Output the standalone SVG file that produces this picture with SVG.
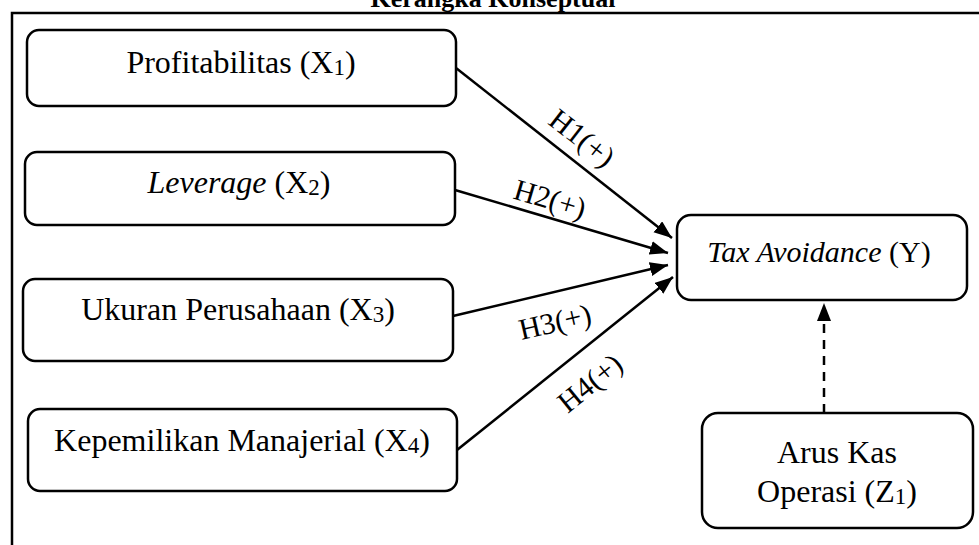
<svg xmlns="http://www.w3.org/2000/svg" width="979" height="545" viewBox="0 0 979 545">
<style>
  .box { fill: #fff; stroke: #000; stroke-width: 2.5; }
  .t { font-family: 'Liberation Serif', 'DejaVu Serif', serif; font-size: 32px; fill: #000; text-anchor: middle; }
  .lbl { font-family: 'Liberation Serif', 'DejaVu Serif', serif; font-size: 30px; fill: #000; text-anchor: middle; }
  .sub { font-size: 23px; }
  .edge { stroke: #000; stroke-width: 2.5; fill: none; }
  .dash { stroke-dasharray: 9 7; }
</style>
<defs>
  <marker id="ah" markerUnits="userSpaceOnUse" markerWidth="20" markerHeight="16" refX="18" refY="7" orient="auto">
    <path d="M0,0 L18,7 L0,14 z" fill="#000"/>
  </marker>
</defs>
<rect width="979" height="545" fill="#fff"/>
<text x="493" y="7" class="t" style="font-weight:bold;font-size:26px">Kerangka Konseptual</text>
<path d="M12,545 V13 H981" fill="none" stroke="#000" stroke-width="2.5"/>

<g id="connectors">
  <line class="edge" x1="456" y1="68" x2="672" y2="238" marker-end="url(#ah)"/>
  <line class="edge" x1="455" y1="190" x2="668" y2="253" marker-end="url(#ah)"/>
  <line class="edge" x1="453" y1="316" x2="668" y2="265" marker-end="url(#ah)"/>
  <line class="edge" x1="457" y1="450" x2="673" y2="277" marker-end="url(#ah)"/>
  <line class="edge dash" x1="824" y1="413" x2="824" y2="303" marker-end="url(#ah)"/>
  <text class="lbl" transform="translate(582,138) rotate(38)" y="10">H1(+)</text>
  <text class="lbl" transform="translate(550,199) rotate(16.5)" y="10">H2(+)</text>
  <text class="lbl" transform="translate(555,322) rotate(-13)" y="10">H3(+)</text>
  <text class="lbl" transform="translate(590,383) rotate(-39)" y="10">H4(+)</text>
</g>

<g id="x1">
  <rect class="box" x="27" y="30" width="429" height="76" rx="12"/>
  <text class="t" x="241" y="73">Profitabilitas (X<tspan class="sub" dy="2">1</tspan><tspan dy="-2">)</tspan></text>
</g>
<g id="x2">
  <rect class="box" x="25" y="152" width="430" height="73" rx="12"/>
  <text class="t" x="239" y="193"><tspan font-style="italic">Leverage</tspan> (X<tspan class="sub" dy="2">2</tspan><tspan dy="-2">)</tspan></text>
</g>
<g id="x3">
  <rect class="box" x="23" y="279" width="430" height="82" rx="12"/>
  <text class="t" x="238" y="320">Ukuran Perusahaan (X<tspan class="sub" dy="2">3</tspan><tspan dy="-2">)</tspan></text>
</g>
<g id="x4">
  <rect class="box" x="28" y="409" width="429" height="82" rx="12"/>
  <text class="t" x="242" y="451">Kepemilikan Manajerial (X<tspan class="sub" dy="2">4</tspan><tspan dy="-2">)</tspan></text>
</g>
<g id="y">
  <rect class="box" x="677" y="215" width="290" height="85" rx="14"/>
  <text class="t" x="819" y="262" style="font-size:30px"><tspan font-style="italic">Tax Avoidance</tspan> (Y)</text>
</g>
<g id="z1">
  <rect class="box" x="702" y="413" width="271" height="115" rx="16"/>
  <text class="t" x="837" y="463">Arus Kas</text>
  <text class="t" x="837" y="502">Operasi (Z<tspan class="sub" dy="2">1</tspan><tspan dy="-2">)</tspan></text>
</g>
</svg>
